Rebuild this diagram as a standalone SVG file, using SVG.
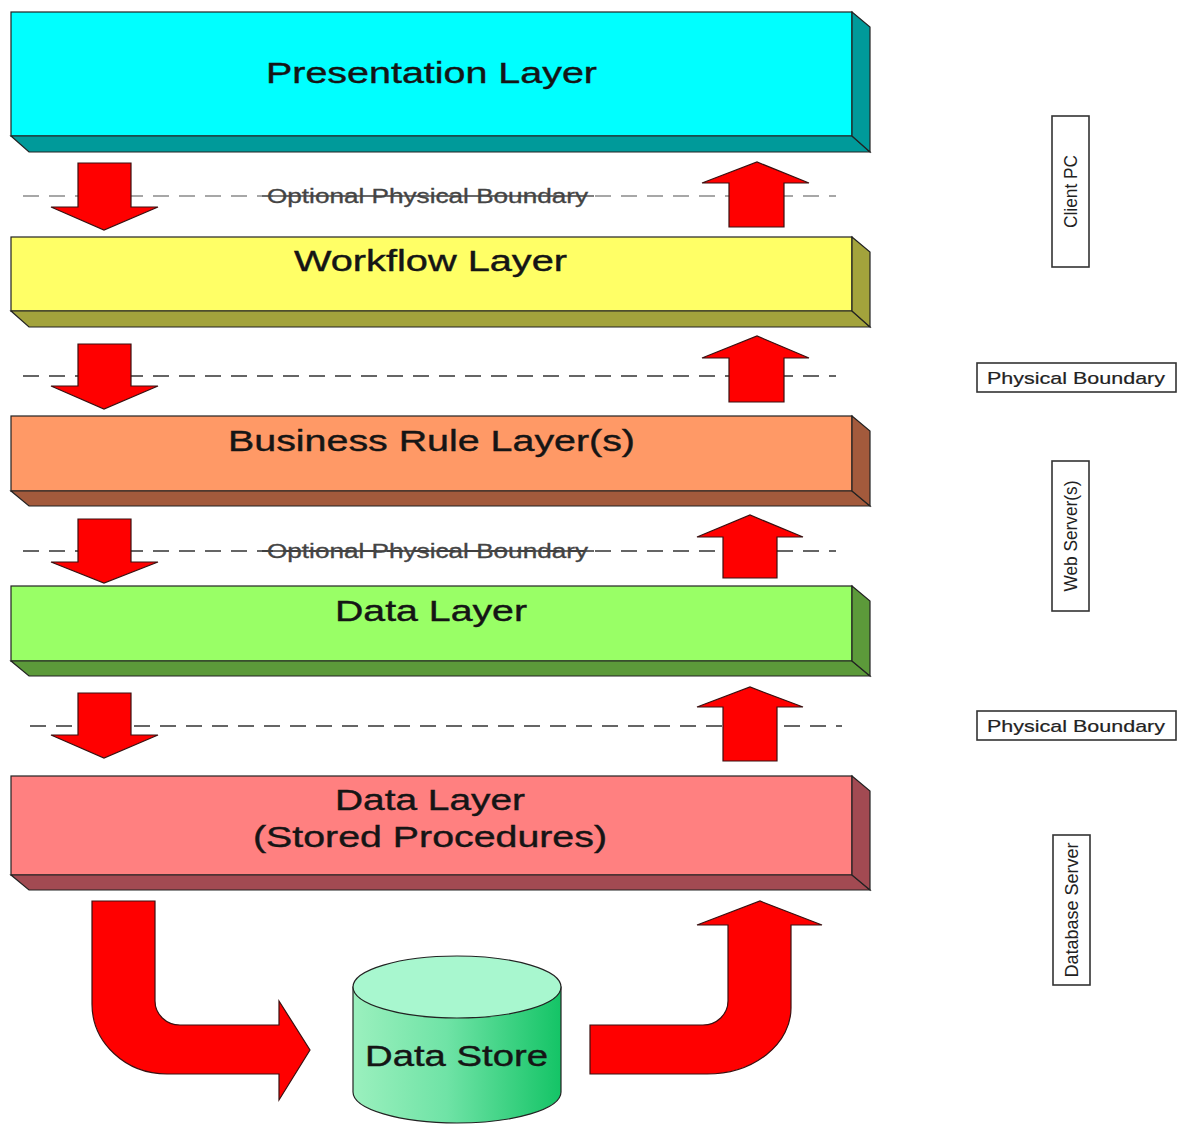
<svg xmlns="http://www.w3.org/2000/svg" width="1177" height="1124" viewBox="0 0 1177 1124">
<style>
.face{stroke:#222;stroke-width:1.2}
.lbl{font-family:"Liberation Sans",Arial,sans-serif;fill:#151515}
.big{font-size:29px;stroke:#151515;stroke-width:0.4}
.opt{font-size:20px;fill:#444;stroke:#444;stroke-width:0.3}
.side{font-size:19px;fill:#222}
.pb{font-size:17px;fill:#222;stroke:#222;stroke-width:0.2}
.dash{stroke:#333;stroke-width:1.6;stroke-dasharray:16 10;fill:none}
.arrow{fill:#FF0000;stroke:#3a1010;stroke-width:1.2;stroke-linejoin:miter}
.box{fill:#fff;stroke:#333;stroke-width:1.6}
</style>
<defs>
<linearGradient id="cyl" x1="0" y1="0" x2="1" y2="0">
<stop offset="0" stop-color="#9BF0BE"/>
<stop offset="0.45" stop-color="#6FE3A6"/>
<stop offset="1" stop-color="#14C466"/>
</linearGradient>
</defs>
<rect width="1177" height="1124" fill="#fff"/>

<g id="boundaries">
<line class="dash" x1="23" y1="196" x2="836" y2="196" style="stroke:#8a8a8a"/>
<line x1="262" y1="196" x2="594" y2="196" stroke="#555" stroke-width="1.4"/>
<line class="dash" x1="23" y1="376" x2="836" y2="376"/>
<line class="dash" x1="23" y1="551" x2="836" y2="551"/>
<line x1="262" y1="551" x2="594" y2="551" stroke="#333" stroke-width="1.4"/>
<line class="dash" x1="30" y1="726" x2="842" y2="726"/>
<text class="lbl opt" x="267" y="203" textLength="321" lengthAdjust="spacingAndGlyphs">Optional Physical Boundary</text>
<text class="lbl opt" x="267" y="558" textLength="321" lengthAdjust="spacingAndGlyphs">Optional Physical Boundary</text>
</g>

<g id="presentation-layer">
<rect class="face" x="11" y="12" width="841" height="124" fill="#00FFFF"/>
<polygon class="face" points="11,136 852,136 870,152 29,152" fill="#009A9A"/>
<polygon class="face" points="852,12 870,27 870,152 852,136" fill="#009A9A"/>
<text class="lbl big" x="266" y="83" textLength="331" lengthAdjust="spacingAndGlyphs">Presentation Layer</text>
</g>

<g id="workflow-layer">
<rect class="face" x="11" y="237" width="841" height="74" fill="#FFFF66"/>
<polygon class="face" points="11,311 852,311 870,327 29,327" fill="#A3A33C"/>
<polygon class="face" points="852,237 870,252 870,327 852,311" fill="#A3A33C"/>
<text class="lbl big" x="294" y="271" textLength="273" lengthAdjust="spacingAndGlyphs">Workflow Layer</text>
</g>

<g id="business-rule-layer">
<rect class="face" x="11" y="416" width="841" height="75" fill="#FF9966"/>
<polygon class="face" points="11,491 852,491 870,506 29,506" fill="#A35A3C"/>
<polygon class="face" points="852,416 870,431 870,506 852,491" fill="#A35A3C"/>
<text class="lbl big" x="228" y="451" textLength="407" lengthAdjust="spacingAndGlyphs">Business Rule Layer(s)</text>
</g>

<g id="data-layer">
<rect class="face" x="11" y="586" width="841" height="75" fill="#99FF66"/>
<polygon class="face" points="11,661 852,661 870,676 29,676" fill="#5C9A3A"/>
<polygon class="face" points="852,586 870,601 870,676 852,661" fill="#5C9A3A"/>
<text class="lbl big" x="335" y="621" textLength="192" lengthAdjust="spacingAndGlyphs">Data Layer</text>
</g>

<g id="data-layer-sp">
<rect class="face" x="11" y="776" width="841" height="99" fill="#FF8080"/>
<polygon class="face" points="11,875 852,875 870,890 29,890" fill="#A24A52"/>
<polygon class="face" points="852,776 870,791 870,890 852,875" fill="#A24A52"/>
<text class="lbl big" x="335" y="810" textLength="190" lengthAdjust="spacingAndGlyphs">Data Layer</text>
<text class="lbl big" x="253" y="847" textLength="354" lengthAdjust="spacingAndGlyphs">(Stored Procedures)</text>
</g>

<g id="data-store">
<path d="M353,987 L353,1092 A104,31 0 0 0 561,1092 L561,987 Z" fill="url(#cyl)" stroke="#222" stroke-width="1.2"/>
<ellipse cx="457" cy="987" rx="104" ry="31" fill="#A8F7CF" stroke="#222" stroke-width="1.2"/>
<text class="lbl big" x="365" y="1066" textLength="183" lengthAdjust="spacingAndGlyphs">Data Store</text>
</g>

<g id="connectors">
<path class="arrow" d="M78,163 H131 V207 H158 L104,230 L51,207 H78 Z"/>
<path class="arrow" d="M78,344 H131 V386 H158 L104,409 L51,386 H78 Z"/>
<path class="arrow" d="M78,519 H131 V562 H158 L104,583 L51,562 H78 Z"/>
<path class="arrow" d="M78,693 H131 V735 H158 L104,758 L51,735 H78 Z"/>
<path class="arrow" d="M729,227 V183 H702 L757,162 L809,183 H784 V227 Z"/>
<path class="arrow" d="M729,402 V358 H702 L757,336 L809,358 H784 V402 Z"/>
<path class="arrow" d="M723,578 V537 H697 L750,515 L803,537 H777 V578 Z"/>
<path class="arrow" d="M723,761 V707 H697 L750,687 L803,707 H777 V761 Z"/>
<path class="arrow" d="M92,901 H155 V1001 A25,24 0 0 0 180,1025 H279 V1001 L310,1050 L279,1100 V1074 H167 A75,70 0 0 1 92,1004 Z"/>
<path class="arrow" d="M590,1025 H703 A25,24 0 0 0 728,1001 V925 H697 L760,901 L822,925 H791 V1008 A84,66 0 0 1 707,1074 H590 Z"/>
</g>

<g id="client-pc">
<rect class="box" x="1052" y="116" width="37" height="151"/>
<text class="lbl side" transform="translate(1077,191.5) rotate(-90)" text-anchor="middle" textLength="73" lengthAdjust="spacingAndGlyphs">Client PC</text>
</g>
<g id="physical-boundary-1">
<rect class="box" x="977" y="363" width="199" height="29"/>
<text class="lbl pb" x="987" y="384" textLength="178" lengthAdjust="spacingAndGlyphs">Physical Boundary</text>
</g>
<g id="web-servers">
<rect class="box" x="1052" y="461" width="37" height="150"/>
<text class="lbl side" transform="translate(1077,536) rotate(-90)" text-anchor="middle" textLength="111" lengthAdjust="spacingAndGlyphs">Web Server(s)</text>
</g>
<g id="physical-boundary-2">
<rect class="box" x="977" y="711" width="199" height="29"/>
<text class="lbl pb" x="987" y="732" textLength="178" lengthAdjust="spacingAndGlyphs">Physical Boundary</text>
</g>
<g id="database-server">
<rect class="box" x="1053" y="835" width="37" height="150"/>
<text class="lbl side" transform="translate(1078,910) rotate(-90)" text-anchor="middle" textLength="135" lengthAdjust="spacingAndGlyphs">Database Server</text>
</g>
</svg>
